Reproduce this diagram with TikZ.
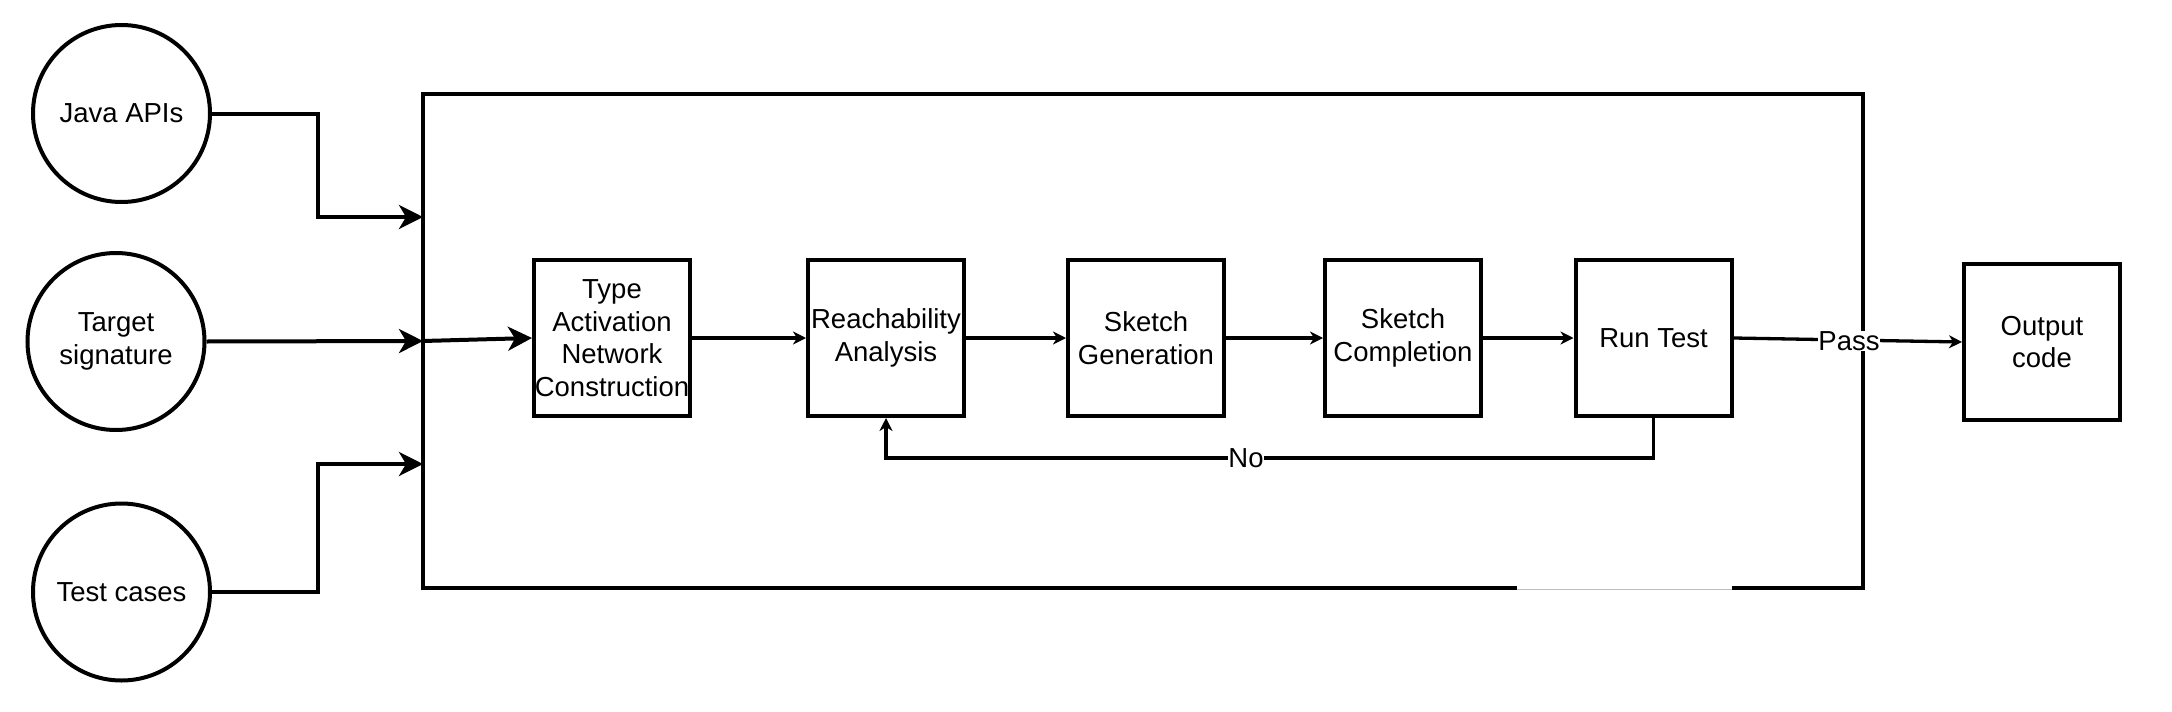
\documentclass[tikz,border=0pt]{standalone}
\usepackage{fontspec}
\setmainfont{Liberation Sans}
\usetikzlibrary{arrows.meta}
\begin{document}
\begin{tikzpicture}[x=1pt,y=-1pt,
  every node/.style={font=\fontsize{27.5}{32.5}\selectfont, align=center},
  proc/.style={draw, line width=4pt, minimum width=156pt, minimum height=156pt, inner sep=0pt},
  src/.style={draw, circle, line width=4pt, minimum size=177pt, inner sep=0pt},
  bigarrow/.style={line width=4pt, -{Stealth[length=24pt,width=24pt,inset=7pt]}},
  smallarrow/.style={line width=3.3pt, -{Stealth[length=13pt,width=13pt,inset=4pt]}},
  plainline/.style={line width=3.3pt},
  lbl/.style={fill=white, inner sep=0.5pt}
]
\useasboundingbox (0,0) rectangle (2172,712);

% outer frame
\draw[line width=4pt] (1517,588) -- (423,588) -- (423,94) -- (1863,94) -- (1863,588) -- (1732,588);
\draw[line width=1pt, gray!50] (1517,589) -- (1732,589);

\coordinate (fJ) at (423,217);
\coordinate (fT) at (423,341);
\coordinate (fC) at (423,464);

% sources
\node[src] (java) at (121.5,113.5) {Java APIs};
\node[src] (tgt) at (116,341.5) {Target\\signature};
\node[src] (test) at (121.5,592) {Test cases};

% process boxes
\node[proc] (type) at (612,338) {Type\\Activation\\Network\\Construction};
\node[proc] (reach) at (886,338) {Reachability\\Analysis};
\node[proc] (gen) at (1146,338) {Sketch\\Generation};
\node[proc] (comp) at (1403,338) {Sketch\\Completion};
\node[proc] (run) at (1653.5,338) {Run Test};
\node[proc] (out) at (2042,342) {Output\\code};

% input connectors
\draw[bigarrow] (java.east) -- (318,113.5) |- (fJ);
\draw[bigarrow] (tgt.east) -- (fT);
\draw[bigarrow] (test.east) -- (318,592) |- (fC);
\draw[bigarrow] (fT) -- (type.west);

% pipeline
\draw[smallarrow] (type.east) -- (reach.west);
\draw[smallarrow] (reach.east) -- (gen.west);
\draw[smallarrow] (gen.east) -- (comp.west);
\draw[smallarrow] (comp.east) -- (run.west);
\draw[smallarrow] (run.east) -- (out.west);
\node[lbl] (pass) at (1849,341) {Pass};

% loop back
\draw[smallarrow] (run.south) -- (run.south |- 0,458) -| (reach.south);
\node[lbl] (no) at (1246,458) {No};
\end{tikzpicture}
\end{document}
